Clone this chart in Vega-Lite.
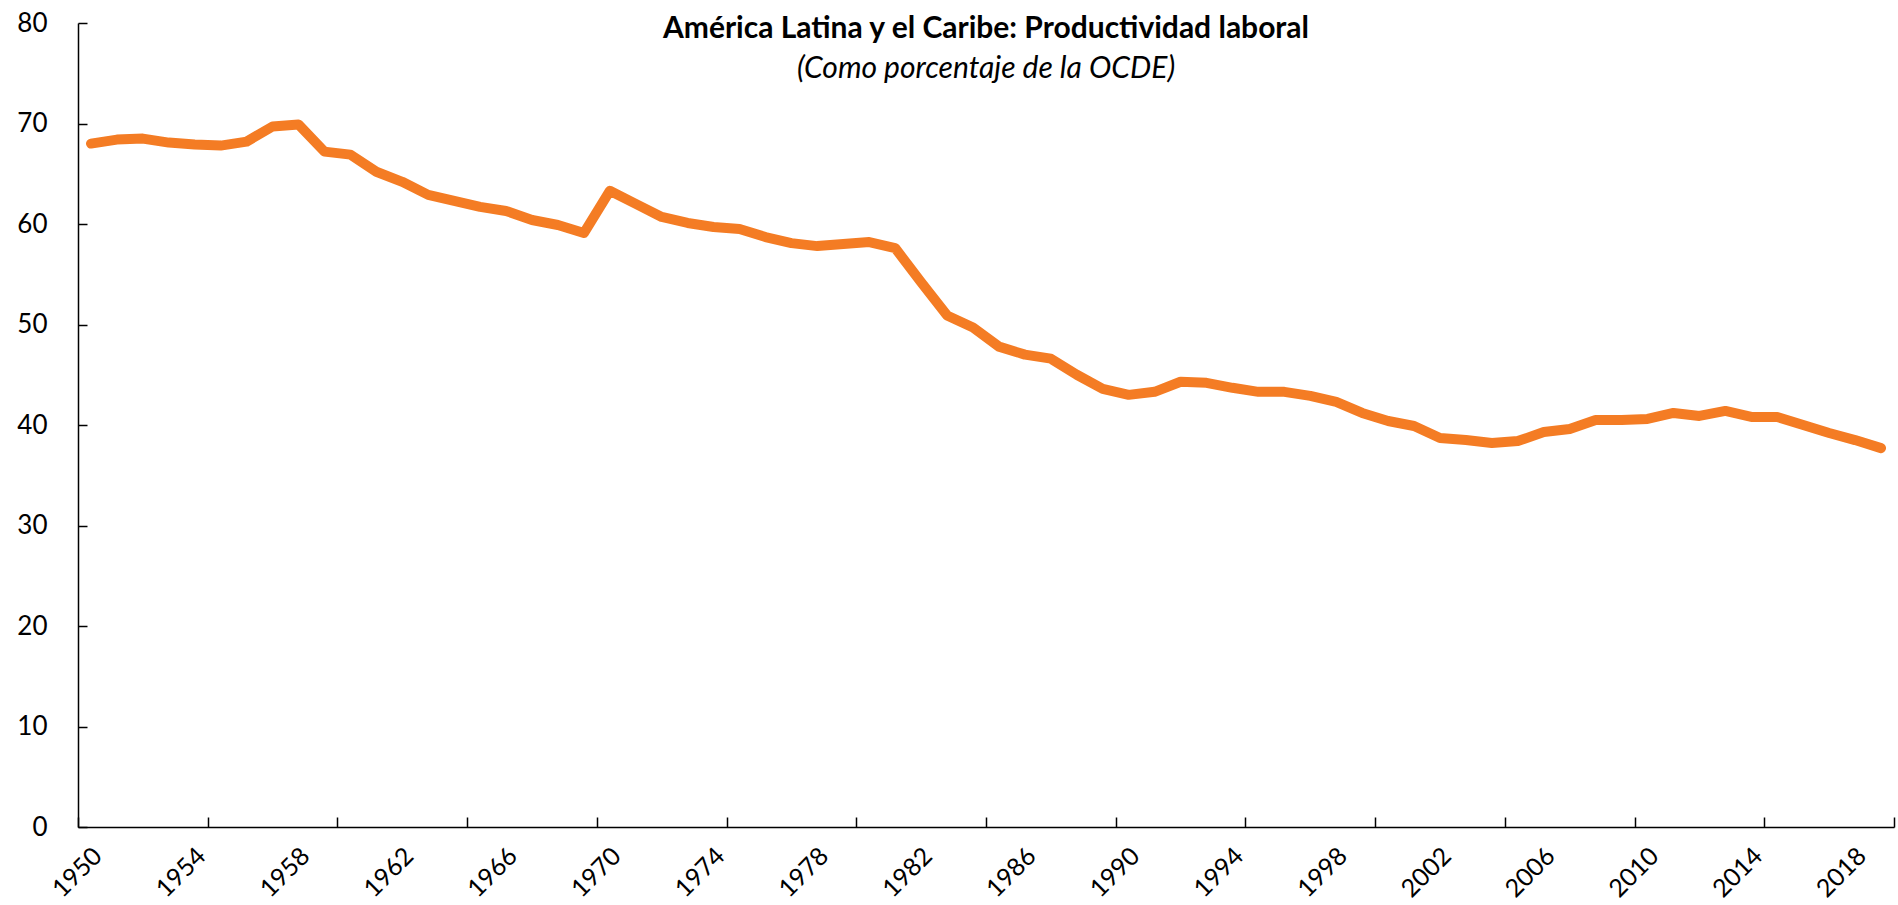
{
  "$schema": "https://vega.github.io/schema/vega-lite/v6.json",
  "width": 1816,
  "height": 804,
  "autosize": {"type": "none"},
  "padding": {"left": 78, "top": 23, "right": 4, "bottom": 78},
  "background": "white",
  "config": {
    "view": {"stroke": null},
    "font": "Lato",
    "axis": {
      "labelFont": "Lato",
      "labelFontSize": 26,
      "labelColor": "black",
      "domainColor": "black",
      "domainWidth": 1.5,
      "tickColor": "black",
      "tickWidth": 1.5,
      "grid": false,
      "title": null
    }
  },
  "title": {
    "text": "América Latina y el Caribe: Productividad laboral",
    "subtitle": "(Como porcentaje de la OCDE)",
    "anchor": "middle",
    "orient": "top",
    "offset": -74,
    "font": "Lato",
    "fontSize": 30,
    "fontWeight": "bold",
    "color": "black",
    "subtitleFont": "Lato",
    "subtitleFontSize": 30,
    "subtitleFontStyle": "italic",
    "subtitleColor": "black",
    "subtitlePadding": 10
  },
  "data": {
    "values": [
      {"year": 1950, "value": 68.0}, {"year": 1951, "value": 68.4}, {"year": 1952, "value": 68.5},
      {"year": 1953, "value": 68.1}, {"year": 1954, "value": 67.9}, {"year": 1955, "value": 67.8},
      {"year": 1956, "value": 68.2}, {"year": 1957, "value": 69.7}, {"year": 1958, "value": 69.9},
      {"year": 1959, "value": 67.2}, {"year": 1960, "value": 66.9}, {"year": 1961, "value": 65.2},
      {"year": 1962, "value": 64.2}, {"year": 1963, "value": 62.9}, {"year": 1964, "value": 62.3},
      {"year": 1965, "value": 61.7}, {"year": 1966, "value": 61.3}, {"year": 1967, "value": 60.4},
      {"year": 1968, "value": 59.9}, {"year": 1969, "value": 59.1}, {"year": 1970, "value": 63.3},
      {"year": 1971, "value": 62.0}, {"year": 1972, "value": 60.7}, {"year": 1973, "value": 60.1},
      {"year": 1974, "value": 59.7}, {"year": 1975, "value": 59.5}, {"year": 1976, "value": 58.7},
      {"year": 1977, "value": 58.1}, {"year": 1978, "value": 57.8}, {"year": 1979, "value": 58.0},
      {"year": 1980, "value": 58.2}, {"year": 1981, "value": 57.6}, {"year": 1982, "value": 54.2},
      {"year": 1983, "value": 50.9}, {"year": 1984, "value": 49.7}, {"year": 1985, "value": 47.8},
      {"year": 1986, "value": 47.0}, {"year": 1987, "value": 46.6}, {"year": 1988, "value": 45.0},
      {"year": 1989, "value": 43.6}, {"year": 1990, "value": 43.0}, {"year": 1991, "value": 43.3},
      {"year": 1992, "value": 44.3}, {"year": 1993, "value": 44.2}, {"year": 1994, "value": 43.7},
      {"year": 1995, "value": 43.3}, {"year": 1996, "value": 43.3}, {"year": 1997, "value": 42.9},
      {"year": 1998, "value": 42.3}, {"year": 1999, "value": 41.2}, {"year": 2000, "value": 40.4},
      {"year": 2001, "value": 39.9}, {"year": 2002, "value": 38.7}, {"year": 2003, "value": 38.5},
      {"year": 2004, "value": 38.2}, {"year": 2005, "value": 38.4}, {"year": 2006, "value": 39.3},
      {"year": 2007, "value": 39.6}, {"year": 2008, "value": 40.5}, {"year": 2009, "value": 40.5},
      {"year": 2010, "value": 40.6}, {"year": 2011, "value": 41.2}, {"year": 2012, "value": 40.9},
      {"year": 2013, "value": 41.4}, {"year": 2014, "value": 40.8}, {"year": 2015, "value": 40.8},
      {"year": 2016, "value": 40.0}, {"year": 2017, "value": 39.2}, {"year": 2018, "value": 38.5},
      {"year": 2019, "value": 37.7}
    ]
  },
  "mark": {"type": "line", "color": "#F47C24", "strokeWidth": 10, "strokeCap": "round", "strokeJoin": "round"},
  "encoding": {
    "x": {
      "field": "year",
      "type": "quantitative",
      "scale": {"domain": [1949.5, 2019.5], "nice": false, "zero": false},
      "axis": {
        "values": [1949.5, 1950, 1954, 1954.5, 1958, 1959.5, 1962, 1964.5, 1966, 1969.5, 1970, 1974, 1974.5, 1978, 1979.5, 1982, 1984.5, 1986, 1989.5, 1990, 1994, 1994.5, 1998, 1999.5, 2002, 2004.5, 2006, 2009.5, 2010, 2014, 2014.5, 2018, 2019.5],
        "labelExpr": "datum.value % 1 == 0 ? toString(datum.value) : ''",
        "labelAngle": -45,
        "labelAlign": "right",
        "labelBaseline": "top",
        "labelOverlap": false,
        "labelFlush": false,
        "labelFontSize": 25,
        "labelPadding": 26,
        "labelOffset": -2,
        "tickSize": -10,
        "tickOpacity": {"condition": {"test": "datum.value % 1 == 0", "value": 0}, "value": 1}
      }
    },
    "y": {
      "field": "value",
      "type": "quantitative",
      "scale": {"domain": [0, 80], "nice": false},
      "axis": {
        "values": [0, 10, 20, 30, 40, 50, 60, 70, 80],
        "tickSize": -9,
        "labelPadding": 40
      }
    }
  }
}
